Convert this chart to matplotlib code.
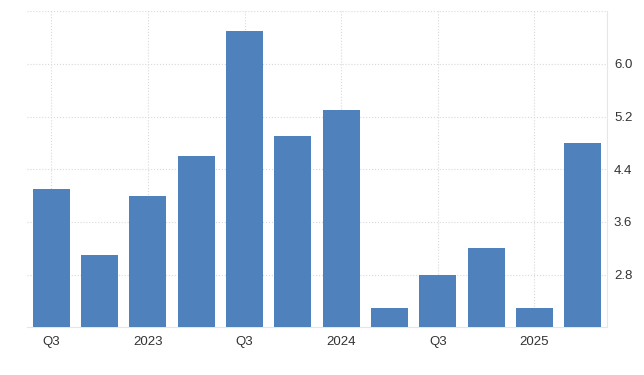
import numpy as np
import matplotlib
matplotlib.use("Agg")
import matplotlib.pyplot as plt

plt.rcParams["font.family"] = ["Liberation Sans", "DejaVu Sans"]

# quarterly values, 2022 Q3 .. 2025 Q2
quarters = ["2022Q3", "2022Q4", "2023Q1", "2023Q2", "2023Q3", "2023Q4",
            "2024Q1", "2024Q2", "2024Q3", "2024Q4", "2025Q1", "2025Q2"]
values = [4.1, 3.1, 4.0, 4.6, 6.5, 4.9, 5.3, 2.3, 2.8, 3.2, 2.3, 4.8]
tick_labels = ["Q3", "2023", "Q3", "2024", "Q3", "2025"]
y_ticks = [2.8, 3.6, 4.4, 5.2, 6.0]

bar_color = "#4f81bd"
grid_color = "#d9d9d9"
text_color = "#333333"

fig = plt.figure(figsize=(6.44, 3.75), dpi=100)
ax = fig.add_axes([0.042, 0.127, 0.9005, 0.843])

x = np.arange(len(quarters))
ax.bar(x, values, width=0.77, color=bar_color, zorder=3)

ax.set_xlim(-0.5, len(quarters) - 0.5)
ax.set_ylim(2.0, 6.8)

ax.set_xticks(x[::2])
ax.set_xticklabels(tick_labels)
ax.set_yticks(y_ticks + [6.8])
ax.set_yticklabels([f"{v:.1f}" for v in y_ticks] + [""])

ax.yaxis.tick_right()
ax.tick_params(axis="both", length=0, labelsize=9.5, colors=text_color)
ax.tick_params(axis="x", pad=6)
ax.tick_params(axis="y", pad=5)

ax.grid(True, color=grid_color, linestyle=":", linewidth=0.8, zorder=0)

for side in ["top", "left"]:
    ax.spines[side].set_visible(False)
ax.spines["right"].set_color("#e6e6e6")
ax.spines["bottom"].set_color("#e6e6e6")

fig.savefig("out.png", dpi=100)
